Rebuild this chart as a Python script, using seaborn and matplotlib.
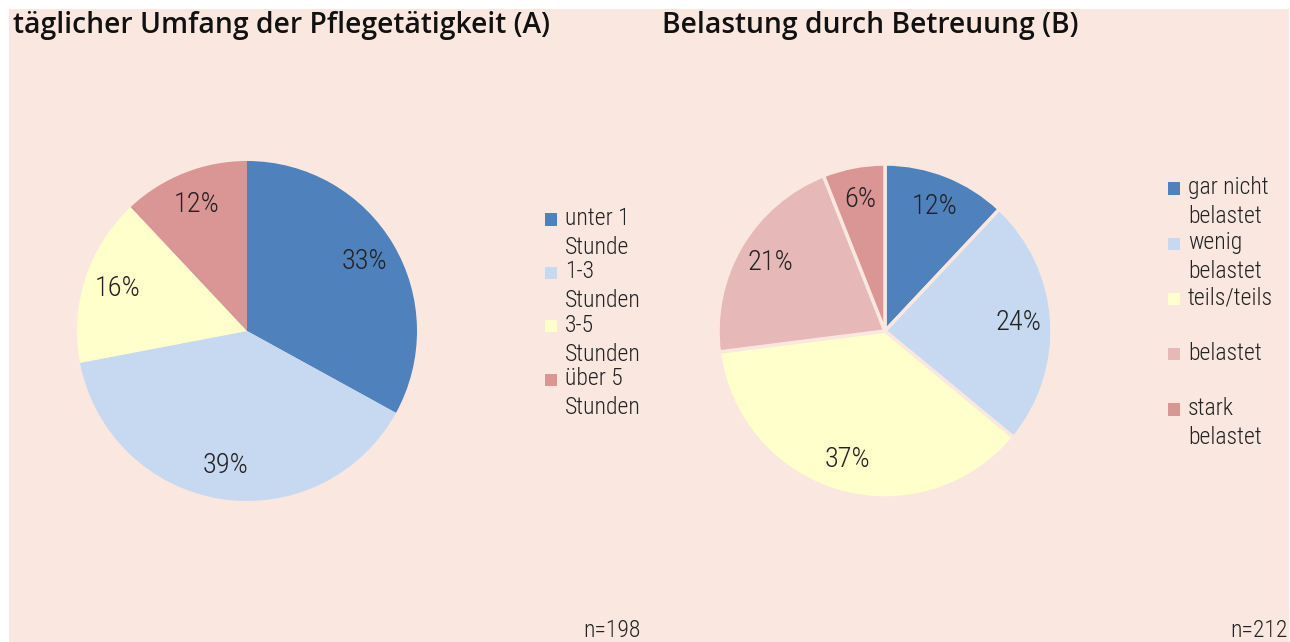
import matplotlib
matplotlib.use("Agg")
import matplotlib.pyplot as plt
from matplotlib.patches import Rectangle, Wedge
from matplotlib.legend_handler import HandlerPatch
import seaborn as sns

# daten
labels_a = ["unter 1\nStunde", "1-3\nStunden", "3-5\nStunden", "über 5\nStunden"]
werte_a = [33, 39, 16, 12]
labels_b = ["gar nicht\nbelastet", "wenig\nbelastet", "teils/teils\n ", "belastet\n ", "stark\nbelastet"]
werte_b = [12, 24, 37, 21, 6]
titel_a = "täglicher Umfang der Pflegetätigkeit (A)"
titel_b = "Belastung durch Betreuung (B)"
n_a = "n=198"
n_b = "n=212"

farben_a = ["#4F81BD", "#C6D9F1", "#FFFFCC", "#D99694"]
farben_b = ["#4F81BD", "#C6D9F1", "#FFFFCC", "#E6B9B8", "#D99694"]
bg = "#FAE8E0"

sns.set_style("white")
plt.rcParams["font.family"] = ["Roboto Condensed", "Liberation Sans Narrow", "Roboto", "DejaVu Sans"]
plt.rcParams["font.weight"] = "light"

LEG_FS = 17
LINESP = 1.33


class TopSquare(HandlerPatch):
    # quadrat an der ersten zeile des labels, nicht mittig
    def create_artists(self, legend, orig_handle, xdescent, ydescent,
                       width, height, fontsize, trans):
        s = 0.52 * fontsize
        shift = 0.5 * 0.9 * LINESP * fontsize
        y = -ydescent + (height - s) / 2 + shift
        p = Rectangle((-xdescent, y), s, s, facecolor=orig_handle.get_facecolor(),
                      edgecolor="none", transform=trans)
        return [p]


fig = plt.figure(figsize=(12.9, 6.42), dpi=100, facecolor="white")
fig.patches.append(Rectangle((9 / 1290, 0), 1280 / 1290, 633 / 642,
                             transform=fig.transFigure, facecolor=bg,
                             edgecolor="none", zorder=-10))


def pie_panel(cx, cy, r, werte, farben, labels, edge, leg_x, leg_y, spacing):
    W, H = 1290, 642
    ax = fig.add_axes([(cx - r) / W, 1 - (cy + r) / H, 2 * r / W, 2 * r / H])
    ax.set_facecolor("none")
    wedges, _, autot = ax.pie(
        werte, colors=farben, startangle=90, counterclock=False,
        autopct=lambda p: f"{p:.0f}%", pctdistance=0.8,
        wedgeprops=dict(edgecolor=bg if edge else "none", linewidth=edge),
        textprops=dict(fontsize=20.5, color="#222222"))
    ax.set_xlim(-1, 1)
    ax.set_ylim(-1, 1)
    ax.set_aspect("auto")
    ax.axis("off")
    leg = fig.legend(wedges, labels, loc="upper left",
                     bbox_to_anchor=(leg_x / W, 1 - leg_y / H),
                     frameon=False, fontsize=LEG_FS, handlelength=0.55,
                     handletextpad=0.3, borderaxespad=0, borderpad=0,
                     labelspacing=spacing,
                     handler_map={Wedge: TopSquare()})
    for t in leg.get_texts():
        t.set_linespacing(LINESP)
        t.set_color("#222222")
    return ax


pie_panel(247, 331, 170, werte_a, farben_a, labels_a, 0, 545, 207, 0.06)
pie_panel(885, 331, 167, werte_b, farben_b, labels_b, 2.5, 1168, 176, 0.14)

titel_font = ["Open Sans", "Noto Sans", "DejaVu Sans"]
fig.text(13 / 1290, 1 - 11 / 642, titel_a, fontsize=20.3, family=titel_font,
         weight="semibold", va="top", ha="left", color="#111111")
fig.text(662 / 1290, 1 - 11 / 642, titel_b, fontsize=20.3, family=titel_font,
         weight="semibold", va="top", ha="left", color="#111111")
fig.text(641 / 1290, 1 - 637 / 642, n_a, fontsize=17, ha="right", va="baseline", color="#222222")
fig.text(1288 / 1290, 1 - 637 / 642, n_b, fontsize=17, ha="right", va="baseline", color="#222222")

fig.savefig("out.png", dpi=100, facecolor="white")
